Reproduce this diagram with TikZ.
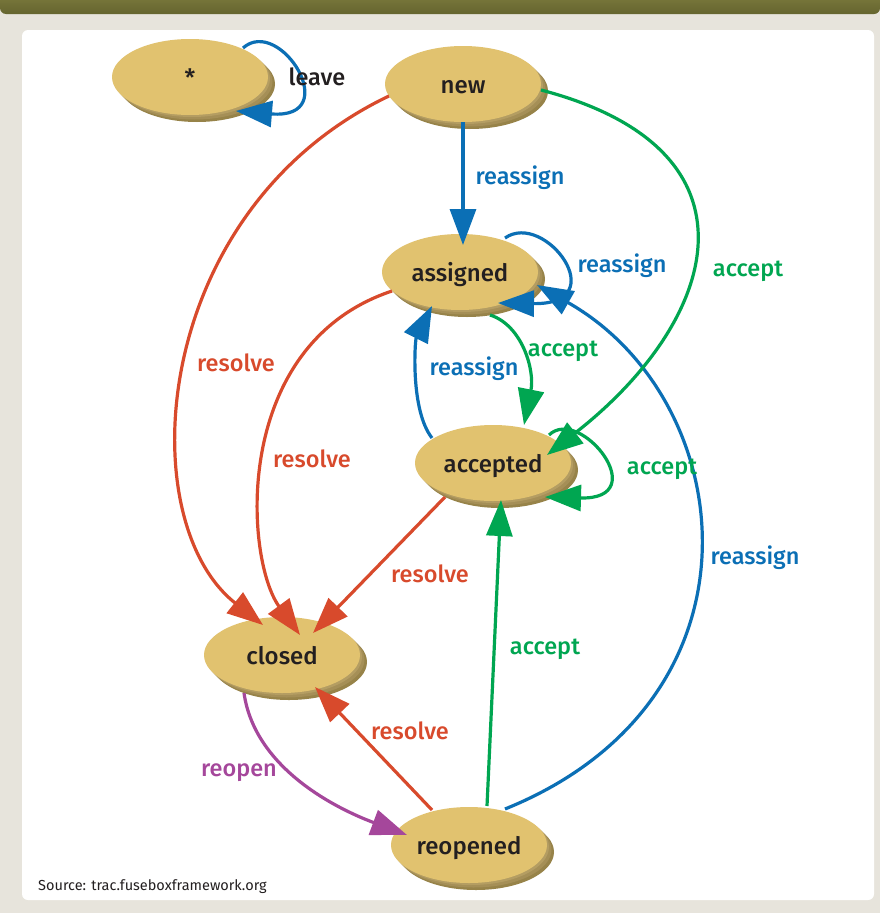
\documentclass[tikz,border=0pt]{standalone}
\usepackage{fontspec}
\setmainfont{Fira Sans}
\newfontfamily\medfont{Fira Sans Medium}
\usetikzlibrary{arrows.meta,shapes.geometric,shadows}
\definecolor{olive}{HTML}{65652F}
\definecolor{olivetop}{HTML}{807E40}
\definecolor{beige}{HTML}{E7E4DC}
\definecolor{nodefill}{HTML}{E1C26F}
\definecolor{shA}{HTML}{978349}
\definecolor{shB}{HTML}{A58F57}
\definecolor{shC}{HTML}{B49D62}
\definecolor{cred}{HTML}{D84A2C}
\definecolor{cblue}{HTML}{0B6FB5}
\definecolor{cgreen}{HTML}{00A651}
\definecolor{cpurple}{HTML}{A5479B}
\definecolor{ink}{HTML}{231F20}
\tikzset{
  state/.style={ellipse, minimum width=156pt, minimum height=76pt, inner sep=0pt,
    fill=nodefill, text=ink, font=\medfont\fontsize{24}{26}\selectfont,
    text height=19pt, text depth=0pt,
    drop shadow={fill=shA, opacity=1, shadow xshift=7pt, shadow yshift=-7pt},
    drop shadow={fill=shB, opacity=1, shadow xshift=4.5pt, shadow yshift=-4.5pt},
    drop shadow={fill=shC, opacity=1, shadow xshift=2pt, shadow yshift=-2pt}},
  tr/.style={line width=3.2pt, -{Triangle[length=36pt,width=26pt]}},
  lbl/.style={font=\medfont\fontsize{23.5}{26}\selectfont, inner sep=0pt,
    text height=16.5pt, text depth=0pt}
}
\begin{document}
\begin{tikzpicture}[x=1pt,y=-1pt]
\useasboundingbox (0,0) rectangle (880,913);
\fill[beige] (0,0) rectangle (880,913);
\shade[top color=olivetop, bottom color=olive, rounded corners=6pt] (0,-10) rectangle (880,14);
\fill[white, rounded corners=6pt] (22,30) rectangle (874,900);

\node[state] (star) at (190,77) {*};
\node[state] (new) at (463,84) {new};
\node[state] (assigned) at (460,272) {assigned};
\node[state] (accepted) at (493,463) {accepted};
\node[state] (closed) at (282,655) {closed};
\node[state] (reopened) at (469,845) {reopened};

% blue
\draw[tr,cblue] ([shift={(53,-29)}]star.center) .. controls (280,15) and (345,120) .. ([shift={(46,34)}]star.center);
\draw[tr,cblue] ([shift={(0,38)}]new.center) -- ([shift={(3,-27)}]assigned.center);
\draw[tr,cblue] ([shift={(45,-34)}]assigned.center) .. controls (545,210) and (615,305) .. ([shift={(38,31)}]assigned.center);
\draw[tr,cblue] ([shift={(36,-36)}]reopened.center) .. controls (775,700) and (740,400) .. ([shift={(77,13)}]assigned.center);
\draw[tr,cblue] ([shift={(-61,-25)}]accepted.center) .. controls (410,410) and (415,340) .. ([shift={(-28,34)}]assigned.center);
% green
\draw[tr,cgreen] ([shift={(30,43)}]assigned.center) .. controls (522,325) and (535,370) .. ([shift={(31,-38)}]accepted.center);
\draw[tr,cgreen] ([shift={(78,6)}]new.center) .. controls (770,150) and (720,320) .. ([shift={(54,-8)}]accepted.center);
\draw[tr,cgreen] ([shift={(56,-28)}]accepted.center) .. controls (580,405) and (655,500) .. ([shift={(52,34)}]accepted.center);
\draw[tr,cgreen] ([shift={(18,-39)}]reopened.center) -- ([shift={(8,37)}]accepted.center);
% red
\draw[tr,cred] ([shift={(-74,12)}]new.center) .. controls (150,210) and (130,520) .. ([shift={(-19,-30)}]closed.center);
\draw[tr,cred] ([shift={(-68,19)}]assigned.center) .. controls (230,345) and (245,560) .. ([shift={(18,-20)}]closed.center);
\draw[tr,cred] ([shift={(-48,34)}]accepted.center) -- ([shift={(31,-22)}]closed.center);
\draw[tr,cred] ([shift={(-37,-35)}]reopened.center) -- ([shift={(33,32)}]closed.center);
% purple
\draw[tr,cpurple] ([shift={(-38,38)}]closed.center) .. controls (255,770) and (340,810) .. ([shift={(-62,-10)}]reopened.center);

% labels
\node[lbl,text=ink] (l1) at (317,77) {leave};
\node[lbl,text=cblue] (l2) at (520,176) {reassign};
\node[lbl,text=cblue] (l3) at (622,264) {reassign};
\node[lbl,text=cgreen] (l4) at (748,268) {accept};
\node[lbl,text=cred] (l5) at (236,363) {resolve};
\node[lbl,text=cblue] (l6) at (474,367) {reassign};
\node[lbl,text=cgreen] (l7) at (563,348) {accept};
\node[lbl,text=cred] (l8) at (312,459) {resolve};
\node[lbl,text=cgreen] (l9) at (662,466) {accept};
\node[lbl,text=cblue] (l10) at (755,556) {reassign};
\node[lbl,text=cred] (l11) at (430,574) {resolve};
\node[lbl,text=cgreen] (l12) at (545,646) {accept};
\node[lbl,text=cred] (l13) at (410,731) {resolve};
\node[lbl,text=cpurple] (l14) at (239,768) {reopen};
\node[anchor=west, inner sep=0pt, text=ink, font=\fontsize{14.5}{16}\selectfont] (src) at (38,887) {Source: trac.fuseboxframework.org};
\end{tikzpicture}
\end{document}
